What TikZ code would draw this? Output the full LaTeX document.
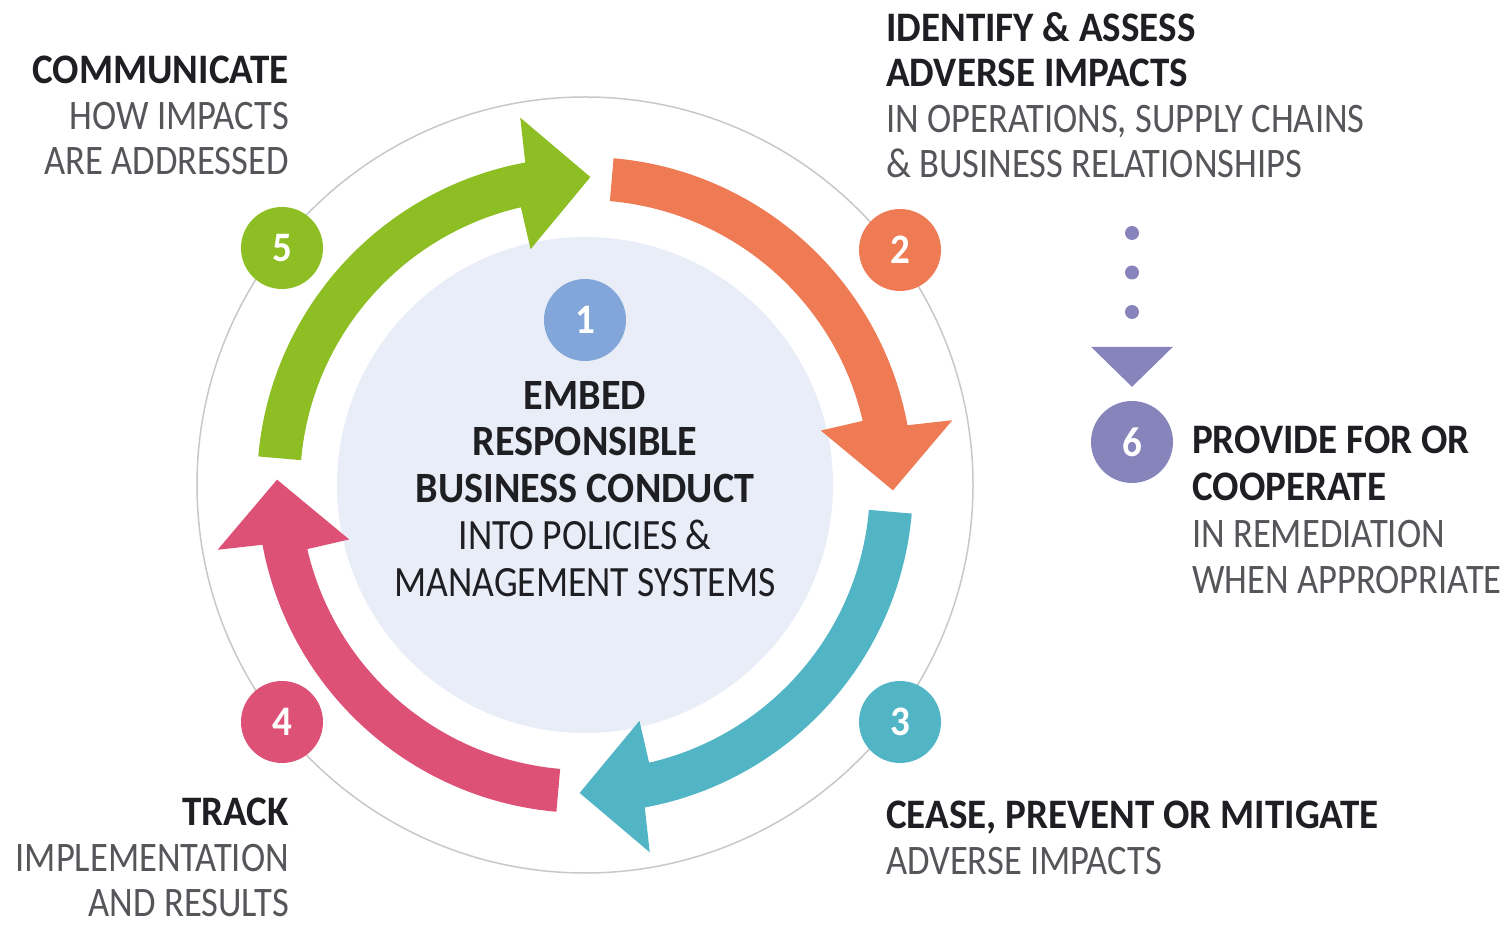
\documentclass[tikz,border=0pt]{standalone}
\usepackage{fontspec}
\setmainfont{Carlito}[FakeStretch=0.87, BoldFeatures={FakeStretch=0.93}]
\usetikzlibrary{arrows.meta}

\definecolor{leafgreen}{RGB}{141,190,36}
\definecolor{coral}{RGB}{239,123,84}
\definecolor{teal}{RGB}{82,181,198}
\definecolor{rose}{RGB}{222,81,118}
\definecolor{skyblue}{RGB}{130,166,218}
\definecolor{lavender}{RGB}{135,132,188}
\definecolor{diskfill}{RGB}{233,237,247}
\definecolor{ringgrey}{RGB}{200,200,200}
\definecolor{ink}{RGB}{30,30,35}
\definecolor{bodygrey}{RGB}{85,85,90}

\newcommand{\bigtext}{\fontsize{42}{45.5}\selectfont}
\newcommand{\midtext}{\fontsize{42}{46.7}\selectfont}
\newcommand{\coretext}{\fontsize{43.2}{46.7}\selectfont}

\tikzset{
  badge/.style={circle, fill=#1, minimum size=82pt, inner sep=0pt,
    text=white, font=\bfseries\fontsize{42}{42}\selectfont},
  caption/.style={inner sep=0pt, text=bodygrey, font=\bigtext},
}

\begin{document}
\begin{tikzpicture}[x=1pt, y=1pt]
  \useasboundingbox (0,0) rectangle (1506,924);

  \begin{scope}[shift={(585,439)}]
    \draw[ringgrey, line width=1.5pt] (0,0) circle[radius=388];
    \fill[diskfill] (0,0) circle[radius=248];

    % the four turning arrows
    \fill[leafgreen] (175:328) arc[start angle=175, end angle=100.5, radius=328]
      -- (100:373) -- (89:308) -- (103:242) -- (103:285)
      arc[start angle=103, end angle=175, radius=285] -- cycle;
    \fill[coral] (85:328) arc[start angle=85, end angle=10.5, radius=328]
      -- (10:373) -- (-1:308) -- (13:242) -- (13:285)
      arc[start angle=13, end angle=85, radius=285] -- cycle;
    \fill[teal] (-5:328) arc[start angle=-5, end angle=-79.5, radius=328]
      -- (-80:373) -- (-91:308) -- (-77:242) -- (-77:285)
      arc[start angle=-77, end angle=-5, radius=285] -- cycle;
    \fill[rose] (-95:328) arc[start angle=-95, end angle=-169.5, radius=328]
      -- (-170:373) -- (-181:308) -- (-167:242) -- (-167:285)
      arc[start angle=-167, end angle=-95, radius=285] -- cycle;
  \end{scope}

  \node[badge=skyblue] (one) at (585,604) {1};
  \node[badge=coral] (two) at (900,674) {2};
  \node[badge=teal] (three) at (900,202) {3};
  \node[badge=rose] (four) at (282,202) {4};
  \node[badge=leafgreen] (five) at (282,676) {5};
  \node[badge=lavender] (six) at (1132,482) {6};

  \node[inner sep=0pt, text=ink, font=\coretext, align=center, anchor=north]
    (embed) at (585,543)
    {\bfseries EMBED\\\bfseries RESPONSIBLE\\\bfseries BUSINESS CONDUCT\\
     INTO POLICIES \&\\MANAGEMENT SYSTEMS};

  \node[caption, align=right, anchor=north east] (communicate) at (289,868)
    {{\bfseries\color{ink}COMMUNICATE}\\HOW IMPACTS\\ARE ADDRESSED};
  \node[caption, align=left, anchor=north west] (identify) at (886,912)
    {{\bfseries\color{ink}IDENTIFY \& ASSESS}\\{\bfseries\color{ink}ADVERSE IMPACTS}\\
     IN OPERATIONS, SUPPLY CHAINS\\\& BUSINESS RELATIONSHIPS};
  \node[caption, align=left, anchor=north west] (cease) at (886,123)
    {{\bfseries\color{ink}CEASE, PREVENT OR MITIGATE}\\ADVERSE IMPACTS};
  \node[caption, align=right, anchor=north east] (track) at (289,126)
    {{\bfseries\color{ink}TRACK}\\IMPLEMENTATION\\AND RESULTS};
  \node[caption, font=\midtext, align=left, anchor=north west] (provide) at (1192,498)
    {{\bfseries\color{ink}PROVIDE FOR OR}\\{\bfseries\color{ink}COOPERATE}\\
     IN REMEDIATION\\WHEN APPROPRIATE};

  % dotted lead into remediation
  \coordinate (dotstop) at (1132,691);
  \draw[lavender, line width=14pt, line cap=round, dash pattern=on 0pt off 39.5pt,
    -{Triangle[width=82pt, length=40pt, line width=0pt]}, shorten >=14pt]
    (dotstop) -- (six);
\end{tikzpicture}
\end{document}
